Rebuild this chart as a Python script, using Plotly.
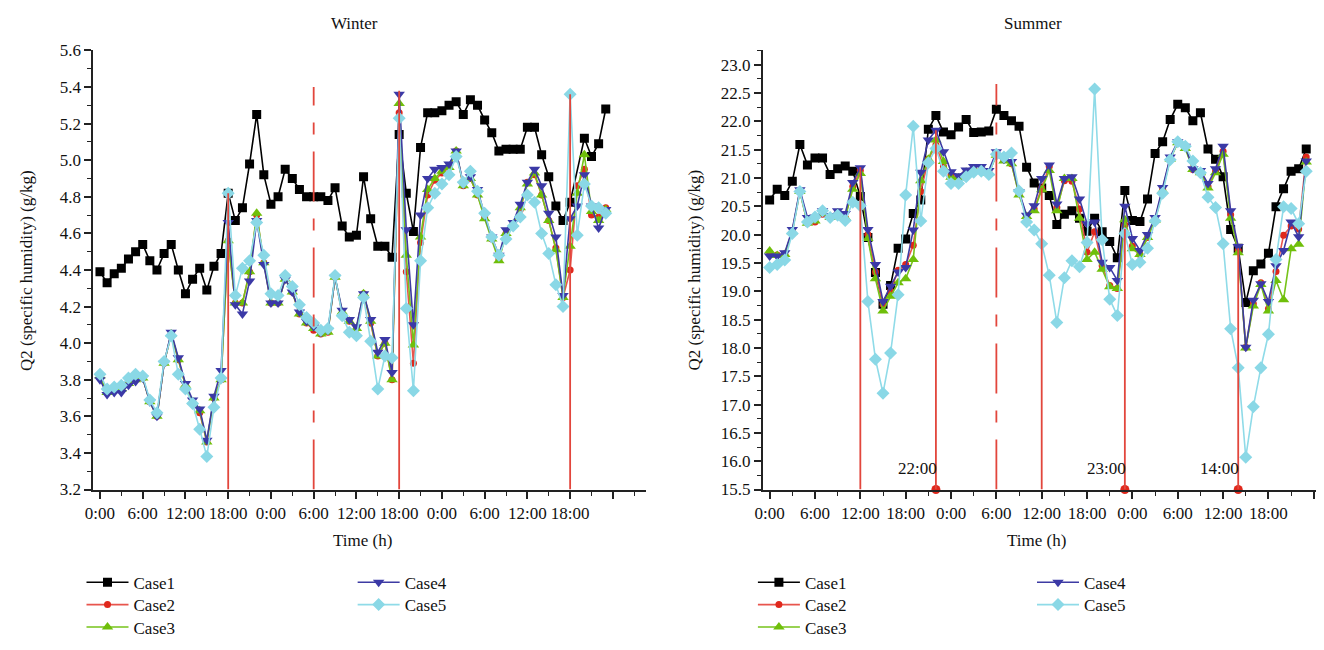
import plotly.graph_objects as go

W, H = 1324, 650
hours = list(range(72))

# ---------------- Winter data (g/kg) ----------------
w_case1 = [4.39, 4.33, 4.38, 4.41, 4.46, 4.50, 4.54, 4.45, 4.40, 4.49, 4.54, 4.40,
           4.27, 4.35, 4.41, 4.29, 4.42, 4.49, 4.82, 4.67, 4.74, 4.98, 5.25, 4.92,
           4.76, 4.80, 4.95, 4.90, 4.84, 4.80, 4.80, 4.80, 4.78, 4.85, 4.64, 4.58,
           4.59, 4.91, 4.68, 4.53, 4.53, 4.47, 5.14, 4.82, 4.61, 5.07, 5.26, 5.26,
           5.27, 5.30, 5.32, 5.25, 5.33, 5.30, 5.22, 5.15, 5.05, 5.06, 5.06, 5.06,
           5.18, 5.18, 5.03, 4.91, 4.75, 4.67, 4.77, None, 5.12, 5.02, 5.09, 5.28]
w_case2 = [3.81, 3.73, 3.75, 3.75, 3.78, 3.80, 3.81, 3.68, 3.60, 3.89, 4.05, 3.91,
           3.77, 3.68, 3.62, 3.46, 3.70, 3.80, 4.56, 4.22, 4.22, 4.39, 4.70, 4.44,
           4.22, 4.22, 4.35, 4.28, 4.16, 4.11, 4.07, 4.05, 4.06, 4.36, 4.16, 4.12,
           4.08, 4.27, 4.11, 3.93, 4.00, 3.80, 5.26, 4.39, 3.89, 4.55, 4.81, 4.89,
           4.93, 4.96, 5.05, 4.86, 4.90, 4.81, 4.69, 4.57, 4.46, 4.60, 4.65, 4.73,
           4.88, 4.92, 4.81, 4.67, 4.52, 4.25, 4.40, 4.86, 4.95, 4.70, 4.69, 4.74]
w_case3 = [3.82, 3.73, 3.75, 3.75, 3.78, 3.80, 3.81, 3.68, 3.60, 3.89, 4.05, 3.91,
           3.77, 3.68, 3.63, 3.46, 3.70, 3.80, 4.56, 4.22, 4.22, 4.39, 4.71, 4.44,
           4.22, 4.22, 4.35, 4.28, 4.16, 4.11, 4.08, 4.05, 4.06, 4.36, 4.17, 4.12,
           4.08, 4.27, 4.12, 3.93, 4.00, 3.80, 5.31, 4.48, 3.99, 4.58, 4.84, 4.90,
           4.94, 4.96, 5.05, 4.86, 4.90, 4.81, 4.68, 4.57, 4.45, 4.60, 4.65, 4.74,
           4.87, 4.93, 4.81, 4.67, 4.51, 4.25, 4.53, 4.82, 5.03, 4.72, 4.67, 4.73]
w_case4 = [3.80, 3.72, 3.73, 3.73, 3.77, 3.79, 3.81, 3.68, 3.60, 3.89, 4.06, 3.92,
           3.78, 3.69, 3.64, 3.47, 3.71, 3.85, 4.66, 4.21, 4.16, 4.34, 4.67, 4.43,
           4.22, 4.22, 4.35, 4.28, 4.17, 4.12, 4.09, 4.06, 4.07, 4.36, 4.18, 4.13,
           4.09, 4.27, 4.13, 3.95, 4.02, 3.84, 5.36, 4.62, 4.10, 4.70, 4.90, 4.95,
           4.96, 4.98, 5.05, 4.87, 4.91, 4.84, 4.70, 4.58, 4.48, 4.62, 4.66, 4.76,
           4.88, 4.95, 4.86, 4.71, 4.58, 4.26, 4.68, 4.75, 4.92, 4.75, 4.63, 4.73]
w_case5 = [3.83, 3.75, 3.76, 3.77, 3.81, 3.83, 3.82, 3.69, 3.62, 3.90, 4.04, 3.83,
           3.75, 3.67, 3.53, 3.38, 3.65, 3.81, 4.82, 4.26, 4.41, 4.45, 4.66, 4.48,
           4.27, 4.26, 4.37, 4.31, 4.21, 4.14, 4.11, 4.07, 4.08, 4.37, 4.15, 4.06,
           4.04, 4.25, 4.01, 3.75, 3.93, 3.92, 5.23, 4.19, 3.74, 4.45, 4.74, 4.82,
           4.87, 4.92, 5.02, 4.88, 4.94, 4.83, 4.71, 4.58, 4.48, 4.57, 4.64, 4.69,
           4.81, 4.77, 4.60, 4.49, 4.32, 4.20, 5.36, 4.59, 4.87, 4.75, 4.74, 4.71]

# ---------------- Summer data (g/kg) ----------------
s_case1 = [20.61, 20.80, 20.69, 20.94, 21.59, 21.23, 21.35, 21.35, 21.06, 21.16, 21.21, 21.12,
           20.67, 19.95, 19.33, 18.77, 19.10, 19.76, 19.92, 20.37, 20.61, 21.86, 22.10, 21.81,
           21.76, 21.90, 22.03, 21.80, 21.81, 21.83, 22.21, 22.10, 22.01, 21.91, 21.19, 20.91,
           20.82, 20.69, 20.18, 20.36, 20.42, 20.29, 20.06, 20.29, 20.05, 19.88, 19.59, 20.78,
           20.25, 20.23, 20.63, 21.43, 21.64, 22.03, 22.30, 22.24, 22.01, 22.15, 21.51, 21.33,
           21.02, 20.09, 19.76, 18.80, 19.36, 19.48, 19.67, 20.49, 20.81, 21.12, 21.16, 21.51]
s_case2 = [19.69, 19.64, 19.66, 20.06, 20.77, 20.20, 20.22, 20.36, 20.30, 20.38, 20.30, 20.85,
           21.13, 20.00, 19.34, 18.77, 19.00, 19.37, 19.47, 19.81, 20.76, 21.33, 21.58, 21.20,
           21.05, 21.00, 21.10, 21.15, 21.15, 21.10, 21.40, 21.33, 21.25, 20.72, 20.33, 20.45,
           20.82, 21.20, 20.48, 20.95, 20.94, 20.45, 19.69, 20.05, 19.45, 19.10, 19.05, 20.17,
           19.80, 19.65, 19.95, 20.27, 20.80, 21.35, 21.62, 21.55, 21.15, 21.10, 20.85, 21.12,
           21.47, 20.35, 19.72, 18.01, 18.78, 19.15, 18.69, 19.35, 19.99, 20.15, 20.10, 21.37]
s_case3 = [19.71, 19.63, 19.65, 20.05, 20.76, 20.20, 20.24, 20.37, 20.30, 20.38, 20.30, 20.80,
           21.08, 19.93, 19.22, 18.65, 18.91, 19.15, 19.22, 19.56, 20.95, 21.33, 21.67, 21.29,
           21.01, 21.00, 21.10, 21.15, 21.15, 21.08, 21.40, 21.30, 21.25, 20.70, 20.32, 20.42,
           20.79, 21.13, 20.42, 20.99, 20.99, 20.29, 19.56, 19.69, 19.39, 19.08, 19.05, 20.26,
           19.75, 19.65, 19.95, 20.25, 20.78, 21.33, 21.62, 21.52, 21.15, 21.09, 20.82, 21.09,
           21.42, 20.29, 19.68, 18.00, 18.74, 19.12, 18.65, 19.19, 18.85, 19.75, 19.83, 21.28]
s_case4 = [19.62, 19.62, 19.68, 20.09, 20.79, 20.30, 20.31, 20.42, 20.33, 20.42, 20.37, 20.92,
           21.18, 20.09, 19.47, 18.82, 19.09, 19.34, 19.42, 20.08, 21.10, 21.67, 21.84, 21.46,
           21.11, 21.04, 21.14, 21.20, 21.20, 21.13, 21.46, 21.33, 21.29, 20.76, 20.34, 20.51,
           20.99, 21.23, 20.54, 20.99, 21.02, 20.63, 20.19, 20.22, 19.51, 19.42, 19.19, 20.50,
           19.93, 19.72, 20.00, 20.30, 20.83, 21.37, 21.64, 21.56, 21.16, 21.13, 20.90, 21.16,
           21.56, 20.42, 19.79, 18.01, 18.84, 19.13, 18.82, 19.45, 19.72, 20.22, 19.96, 21.30]
s_case5 = [19.42, 19.47, 19.55, 20.02, 20.76, 20.22, 20.31, 20.42, 20.30, 20.34, 20.25, 20.57,
           20.51, 18.82, 17.80, 17.20, 17.91, 18.94, 20.70, 21.91, 20.24, 21.27, 21.52, 21.12,
           20.90, 20.90, 21.02, 21.10, 21.12, 21.06, 21.42, 21.37, 21.44, 20.77, 20.22, 20.08,
           19.84, 19.28, 18.45, 19.24, 19.54, 19.43, 19.86, 22.57, 19.91, 18.86, 18.57, 20.02,
           19.47, 19.51, 19.76, 20.24, 20.73, 21.32, 21.64, 21.56, 21.30, 21.09, 20.66, 20.48,
           19.84, 18.34, 17.65, 16.07, 16.96, 17.65, 18.24, 19.56, 20.49, 20.46, 20.19, 21.12]

case_names = ["Case1", "Case2", "Case3", "Case4", "Case5"]
line_colors = ["#000000", "#e8554d", "#76c31a", "#3d3ba3", "#8fdbe8"]
marker_colors = ["#000000", "#e0281c", "#6fbf0a", "#3b39a6", "#8ad8e6"]
symbols = ["square", "circle", "triangle-up", "triangle-down", "diamond"]
msizes = [9, 7, 10, 10, 10]

tick_vals = [0, 6, 12, 18, 24, 30, 36, 42, 48, 54, 60, 66, 72]
tick_text = ["0:00", "6:00", "12:00", "18:00"] * 3 + [""]

# event (vertical red) lines
w_event_hours = [18, 30, 42, 66]
w_event_tops = [4.82, 5.40, 5.38, 5.36]
w_event_dashed = [False, True, False, False]
s_event_hours = [12, 22, 30, 36, 47, 62]
s_event_tops = [21.19, 21.84, 22.66, 20.82, 20.10, 19.76]
s_event_dashed = [False, False, True, False, False, False]
s_mark_hours = [22, 47, 62]
s_mark_labels = ["22:00", "23:00", "14:00"]

FONT = "Liberation Serif"
RED = "#e2463c"
TXT = "#111111"

fig = go.Figure()

winter = [w_case1, w_case2, w_case3, w_case4, w_case5]
summer = [s_case1, s_case2, s_case3, s_case4, s_case5]

# legend placement: (left x of symbol line, row centre y) in pixels
w_leg_pos = [(85, 591), (85, 614), (85, 637), (358, 591), (358, 614)]
s_leg_pos = [(761, 591), (761, 614), (761, 637), (1042, 591), (1042, 614)]

legend_layout = {}
k = 0
for chart, data, pos, xa, ya in [("w", winter, w_leg_pos, "x", "y"), ("s", summer, s_leg_pos, "x2", "y2")]:
    for i, name in enumerate(case_names):
        k += 1
        lname = "legend" if k == 1 else "legend%d" % k
        fig.add_trace(go.Scatter(
            x=hours, y=data[i], name=name, mode="lines+markers", connectgaps=True,
            line=dict(color=line_colors[i], width=1.6),
            marker=dict(symbol=symbols[i], size=msizes[i], color=marker_colors[i], line=dict(width=0)),
            xaxis=xa, yaxis=ya, legend=lname))
        px, py = pos[i]
        legend_layout[lname] = dict(
            x=(px - 12) / W, y=1 - py / H, xanchor="left", yanchor="middle",
            font=dict(family=FONT, size=17, color=TXT), bgcolor="rgba(0,0,0,0)",
            itemwidth=42)

shapes = []
for h, top, d in zip(w_event_hours, w_event_tops, w_event_dashed):
    shapes.append(dict(type="line", xref="x", yref="y", x0=h, x1=h, y0=3.2, y1=top,
                       line=dict(color=RED, width=1.8, dash="50px,17px,12px,17px" if d else "solid"),
                       layer="above"))
for h, top, d in zip(s_event_hours, s_event_tops, s_event_dashed):
    shapes.append(dict(type="line", xref="x2", yref="y2", x0=h, x1=h, y0=15.5, y1=top,
                       line=dict(color=RED, width=1.8, dash="50px,17px,12px,17px" if d else "solid"),
                       layer="above"))

fig.add_trace(go.Scatter(x=s_mark_hours, y=[15.5] * len(s_mark_hours), mode="markers",
                         marker=dict(color="#e0281c", size=9), cliponaxis=False,
                         showlegend=False, xaxis="x2", yaxis="y2", hoverinfo="skip"))

annotations = []
for h, lab in zip(s_mark_hours, s_mark_labels):
    annotations.append(dict(x=h, y=15.5, xref="x2", yref="y2", text=lab, showarrow=False,
                            xanchor="right", yanchor="bottom", xshift=3, yshift=10,
                            font=dict(family=FONT, size=17, color=TXT)))

x_dom_w = [85 / W, 641 / W]
x_dom_s = [759 / W, 1316 / W]
y_dom = [1 - 495 / H, 1 - 42.7 / H]

for txt, xc in [("Winter", 348), ("Summer", 1031)]:
    annotations.append(dict(text=txt, x=xc / W, y=1 - 15 / H, xref="paper", yref="paper",
                            xanchor="center", yanchor="middle", showarrow=False,
                            font=dict(family=FONT, size=17, color=TXT)))
for xc in [356, 1035]:
    annotations.append(dict(text="Time (h)", x=xc / W, y=1 - 548 / H, xref="paper", yref="paper",
                            xanchor="center", yanchor="middle", showarrow=False,
                            font=dict(family=FONT, size=17, color=TXT)))
for xc in [17, 690]:
    annotations.append(dict(text="Q2 (specific humidity) (g/kg)", x=xc / W, y=1 - 269 / H,
                            xref="paper", yref="paper", textangle=-90, showarrow=False,
                            xanchor="center", yanchor="middle",
                            font=dict(family=FONT, size=17, color=TXT)))

axis_common = dict(showgrid=False, zeroline=False, showline=True, linecolor="#222", linewidth=2,
                   ticks="outside", tickcolor="#222", tickwidth=1.5, ticklen=7,
                   tickfont=dict(family=FONT, size=17, color=TXT))
minor_common = dict(ticks="outside", ticklen=4, tickcolor="#222", tickwidth=1.2)

fig.update_layout(
    width=W, height=H, margin=dict(l=0, r=0, t=0, b=0),
    plot_bgcolor="white", paper_bgcolor="white",
    xaxis=dict(domain=x_dom_w, range=[-0.92, 76.6], anchor="y", tickmode="array",
               tickvals=tick_vals, ticktext=tick_text,
               minor=dict(dtick=3, tick0=0, **minor_common), **axis_common),
    yaxis=dict(domain=y_dom, range=[3.2, 5.6], anchor="x", dtick=0.2, tick0=3.2, tickformat=".1f",
               minor=dict(dtick=0.1, tick0=3.2, **minor_common), **axis_common),
    xaxis2=dict(domain=x_dom_s, range=[-0.9, 72.3], anchor="y2", tickmode="array",
                tickvals=tick_vals, ticktext=tick_text,
                minor=dict(dtick=3, tick0=0, **minor_common), **axis_common),
    yaxis2=dict(domain=y_dom, range=[15.5, 23.25], anchor="x2", dtick=0.5, tick0=15.5, tickformat=".1f",
                minor=dict(dtick=0.25, tick0=15.5, **minor_common), **axis_common),
    shapes=shapes, annotations=annotations, showlegend=True,
    **legend_layout,
)

fig.write_html("out.html")
